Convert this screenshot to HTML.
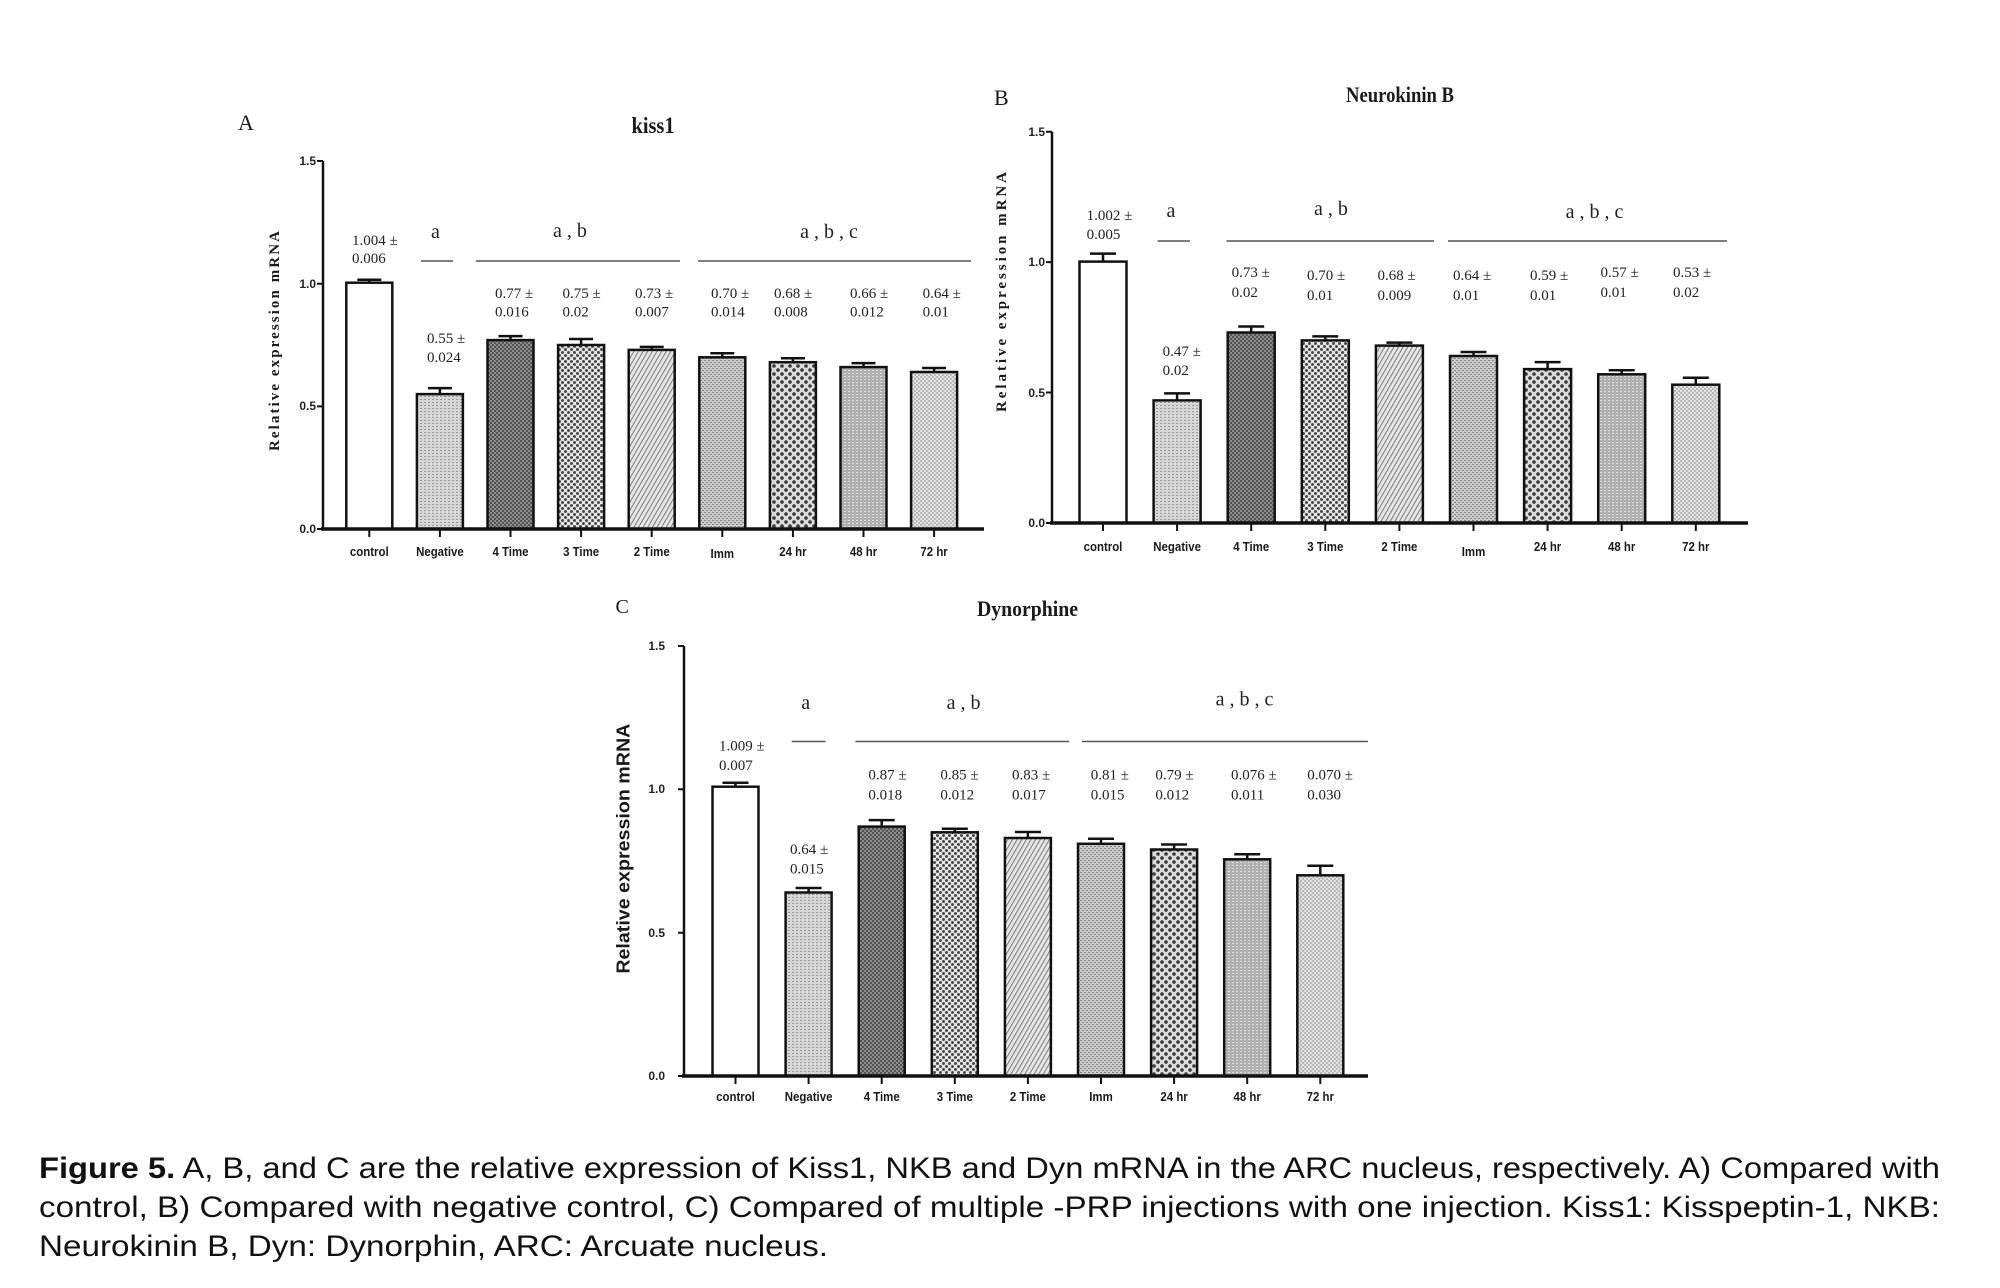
<!DOCTYPE html>
<html><head><meta charset="utf-8"><style>
html,body{margin:0;padding:0;background:#fff;}
svg{display:block;}
.sf{font-family:"Liberation Serif",serif;fill:#1a1a1a;}
.ss{font-family:"Liberation Sans",sans-serif;fill:#1a1a1a;}
.ann{font-family:"Liberation Serif",serif;font-size:15px;fill:#222;}
.let{font-family:"Liberation Serif",serif;font-size:20px;fill:#222;}
.tk{font-family:"Liberation Sans",sans-serif;font-size:12px;font-weight:bold;fill:#222;}
.xl{font-family:"Liberation Sans",sans-serif;font-size:13px;font-weight:bold;fill:#1a1a1a;}
.bar{stroke:#111;stroke-width:2.5;}
.ax{stroke:#111;fill:none;}
.eb{stroke:#111;stroke-width:2.5;fill:none;}
.gl{stroke:#555;stroke-width:1.6;}
</style></head><body>
<svg width="2000" height="1288" viewBox="0 0 2000 1288" xmlns="http://www.w3.org/2000/svg">
<defs>
<pattern id="pNeg" width="4" height="3" patternUnits="userSpaceOnUse"><rect width="4" height="3" fill="#d6d6d6"/><rect x="0" y="0" width="2" height="1" fill="#9a9a9a"/></pattern>
<pattern id="p4" width="4" height="4" patternUnits="userSpaceOnUse"><rect width="4" height="4" fill="#8a8a8a"/><rect x="0" y="0" width="2" height="2" fill="#555"/><rect x="2" y="2" width="2" height="2" fill="#555"/></pattern>
<pattern id="p3" width="6" height="6" patternUnits="userSpaceOnUse"><rect width="6" height="6" fill="#e6e6e6"/><circle cx="1.5" cy="1.5" r="1.45" fill="#444"/><circle cx="4.5" cy="4.5" r="1.45" fill="#444"/></pattern>
<pattern id="p2" width="4" height="4" patternUnits="userSpaceOnUse" patternTransform="rotate(30)"><rect width="4" height="4" fill="#e8e8e8"/><rect x="0" y="0" width="1.2" height="4" fill="#888"/></pattern>
<pattern id="pImm" width="4" height="4" patternUnits="userSpaceOnUse"><rect width="4" height="4" fill="#cbcbcb"/><rect x="0" y="0" width="2" height="1" fill="#858585"/><rect x="2" y="2" width="2" height="1" fill="#858585"/></pattern>
<pattern id="p24" width="8" height="8" patternUnits="userSpaceOnUse"><rect width="8" height="8" fill="#dcdcdc"/><circle cx="2" cy="2" r="1.8" fill="#3a3a3a"/><circle cx="6" cy="6" r="1.8" fill="#3a3a3a"/></pattern>
<pattern id="p48" width="4" height="3" patternUnits="userSpaceOnUse"><rect width="4" height="3" fill="#b0b0b0"/><rect x="0" y="1" width="2" height="1" fill="#dcdcdc"/></pattern>
<pattern id="p72" width="4" height="4" patternUnits="userSpaceOnUse"><rect width="4" height="4" fill="#e2e2e2"/><rect x="0" y="0" width="2" height="2" fill="#b8b8b8"/><rect x="2" y="2" width="2" height="2" fill="#b8b8b8"/></pattern>
</defs>
<rect width="2000" height="1288" fill="#fff"/>

<!-- ================= CHART A ================= -->
<text class="sf" x="238" y="130" font-size="22">A</text>
<text class="sf" x="653" y="133" font-size="23" font-weight="bold" text-anchor="middle" textLength="43" lengthAdjust="spacingAndGlyphs">kiss1</text>
<text class="sf" transform="translate(279,341) rotate(-90)" font-size="15" font-weight="bold" text-anchor="middle" textLength="220" lengthAdjust="spacing">Relative expression mRNA</text>

<!-- bars A -->
<rect class="bar" x="346.3" y="282.7" width="46" height="246.3" fill="#fff"/>
<rect class="bar" x="416.9" y="394.1" width="46" height="134.9" fill="url(#pNeg)"/>
<rect class="bar" x="487.5" y="340.1" width="46" height="188.9" fill="url(#p4)"/>
<rect class="bar" x="558.1" y="345.0" width="46" height="184.0" fill="url(#p3)"/>
<rect class="bar" x="628.7" y="349.9" width="46" height="179.1" fill="url(#p2)"/>
<rect class="bar" x="699.3" y="357.3" width="46" height="171.7" fill="url(#pImm)"/>
<rect class="bar" x="769.9" y="362.2" width="46" height="166.8" fill="url(#p24)"/>
<rect class="bar" x="840.5" y="367.1" width="46" height="161.9" fill="url(#p48)"/>
<rect class="bar" x="911.1" y="372.0" width="46" height="157.0" fill="url(#p72)"/>
<!-- error bars A -->
<path class="eb" d="M369.3 282.7V279.7M357.3 279.7H381.3
M439.9 394.1V388.1M427.9 388.1H451.9
M510.5 340.1V336.1M498.5 336.1H522.5
M581.1 345.0V339.0M569.1 339.0H593.1
M651.7 349.9V346.9M639.7 346.9H663.7
M722.3 357.3V353.3M710.3 353.3H734.3
M792.9 362.2V358.2M780.9 358.2H804.9
M863.5 367.1V363.1M851.5 363.1H875.5
M934.1 372.0V368.0M922.1 368.0H946.1"/>
<!-- axes A -->
<line class="ax" x1="323" y1="161" x2="323" y2="529" stroke-width="2.5"/>
<line class="ax" x1="321" y1="529" x2="984" y2="529" stroke-width="3.5"/>
<path class="ax" stroke-width="2" d="M317 161H323M317 283.7H323M317 406.4H323M317 529H323"/>
<text class="tk" x="316" y="165" text-anchor="end">1.5</text>
<text class="tk" x="316" y="288" text-anchor="end">1.0</text>
<text class="tk" x="316" y="410" text-anchor="end">0.5</text>
<text class="tk" x="316" y="533" text-anchor="end">0.0</text>
<path class="ax" stroke-width="2" d="M369.3 529V537M439.9 529V537M510.5 529V537M581.1 529V537M651.7 529V537M722.3 529V537M792.9 529V537M863.5 529V537M934.1 529V537"/>
<g class="xl" text-anchor="middle">
<text transform="translate(369.3,556) scale(0.88,1)">control</text>
<text transform="translate(439.9,556) scale(0.88,1)">Negative</text>
<text transform="translate(510.5,556) scale(0.88,1)">4 Time</text>
<text transform="translate(581.1,556) scale(0.88,1)">3 Time</text>
<text transform="translate(651.7,556) scale(0.88,1)">2 Time</text>
<text transform="translate(722.3,558) scale(0.88,1)">Imm</text>
<text transform="translate(792.9,556) scale(0.88,1)">24 hr</text>
<text transform="translate(863.5,556) scale(0.88,1)">48 hr</text>
<text transform="translate(934.1,556) scale(0.88,1)">72 hr</text>
</g>
<!-- annotations A -->
<text class="ann" x="352" y="245">1.004 ±</text><text class="ann" x="352" y="263">0.006</text>
<text class="let" x="435.5" y="238" text-anchor="middle">a</text>
<text class="let" x="570" y="237" text-anchor="middle">a , b</text>
<text class="let" x="829" y="238" text-anchor="middle">a , b , c</text>
<path class="gl" d="M421 261H453M476 261H680M698 261H971"/>
<text class="ann" x="427" y="343">0.55 ±</text><text class="ann" x="427" y="362">0.024</text>
<text class="ann" x="495" y="298">0.77 ±</text><text class="ann" x="495" y="316.5">0.016</text>
<text class="ann" x="562.5" y="298">0.75 ±</text><text class="ann" x="562.5" y="316.5">0.02</text>
<text class="ann" x="635" y="298">0.73 ±</text><text class="ann" x="635" y="316.5">0.007</text>
<text class="ann" x="711" y="298">0.70 ±</text><text class="ann" x="711" y="316.5">0.014</text>
<text class="ann" x="774" y="298">0.68 ±</text><text class="ann" x="774" y="316.5">0.008</text>
<text class="ann" x="850" y="298">0.66 ±</text><text class="ann" x="850" y="316.5">0.012</text>
<text class="ann" x="922.6" y="298">0.64 ±</text><text class="ann" x="922.6" y="316.5">0.01</text>

<!-- ================= CHART B ================= -->
<text class="sf" x="994" y="105" font-size="22">B</text>
<text class="sf" x="1400" y="102" font-size="22" font-weight="bold" text-anchor="middle" textLength="108" lengthAdjust="spacingAndGlyphs">Neurokinin B</text>
<text class="sf" transform="translate(1006,292) rotate(-90)" font-size="15" font-weight="bold" text-anchor="middle" textLength="240" lengthAdjust="spacing">Relative expression mRNA</text>

<rect class="bar" x="1079.5" y="261.6" width="47" height="261.4" fill="#fff"/>
<rect class="bar" x="1153.6" y="400.4" width="47" height="122.6" fill="url(#pNeg)"/>
<rect class="bar" x="1227.7" y="332.5" width="47" height="190.5" fill="url(#p4)"/>
<rect class="bar" x="1301.8" y="340.4" width="47" height="182.6" fill="url(#p3)"/>
<rect class="bar" x="1375.9" y="345.6" width="47" height="177.4" fill="url(#p2)"/>
<rect class="bar" x="1450" y="356.0" width="47" height="167.0" fill="url(#pImm)"/>
<rect class="bar" x="1524.1" y="369.1" width="47" height="153.9" fill="url(#p24)"/>
<rect class="bar" x="1598.2" y="374.3" width="47" height="148.7" fill="url(#p48)"/>
<rect class="bar" x="1672.3" y="384.7" width="47" height="138.3" fill="url(#p72)"/>
<path class="eb" d="M1103 261.6V253.6M1090 253.6H1116
M1177.1 400.4V393.4M1164.1 393.4H1190.1
M1251.2 332.5V326.5M1238.2 326.5H1264.2
M1325.3 340.4V336.4M1312.3 336.4H1338.3
M1399.4 345.6V342.6M1386.4 342.6H1412.4
M1473.5 356.0V352.0M1460.5 352.0H1486.5
M1547.6 369.1V362.1M1534.6 362.1H1560.6
M1621.7 374.3V370.3M1608.7 370.3H1634.7
M1695.8 384.7V377.7M1682.8 377.7H1708.8"/>
<line class="ax" x1="1052" y1="131.7" x2="1052" y2="523" stroke-width="2.5"/>
<line class="ax" x1="1050" y1="523" x2="1748" y2="523" stroke-width="3.5"/>
<path class="ax" stroke-width="2" d="M1046 131.7H1052M1046 262.1H1052M1046 392.5H1052M1046 523H1052"/>
<text class="tk" x="1045" y="136" text-anchor="end">1.5</text>
<text class="tk" x="1045" y="266" text-anchor="end">1.0</text>
<text class="tk" x="1045" y="397" text-anchor="end">0.5</text>
<text class="tk" x="1045" y="527" text-anchor="end">0.0</text>
<path class="ax" stroke-width="2" d="M1103 523V531M1177.1 523V531M1251.2 523V531M1325.3 523V531M1399.4 523V531M1473.5 523V531M1547.6 523V531M1621.7 523V531M1695.8 523V531"/>
<g class="xl" text-anchor="middle">
<text transform="translate(1103,551) scale(0.88,1)">control</text>
<text transform="translate(1177.1,551) scale(0.88,1)">Negative</text>
<text transform="translate(1251.2,551) scale(0.88,1)">4 Time</text>
<text transform="translate(1325.3,551) scale(0.88,1)">3 Time</text>
<text transform="translate(1399.4,551) scale(0.88,1)">2 Time</text>
<text transform="translate(1473.5,556) scale(0.88,1)">Imm</text>
<text transform="translate(1547.6,551) scale(0.88,1)">24 hr</text>
<text transform="translate(1621.7,551) scale(0.88,1)">48 hr</text>
<text transform="translate(1695.8,551) scale(0.88,1)">72 hr</text>
</g>
<text class="ann" x="1086.6" y="220">1.002 ±</text><text class="ann" x="1086.6" y="239">0.005</text>
<text class="let" x="1171" y="217" text-anchor="middle">a</text>
<text class="let" x="1331" y="215" text-anchor="middle">a , b</text>
<text class="let" x="1594.5" y="218" text-anchor="middle">a , b , c</text>
<path class="gl" d="M1157.6 241H1190M1226.5 241H1434M1448 241H1727"/>
<text class="ann" x="1162.6" y="356">0.47 ±</text><text class="ann" x="1162.6" y="375">0.02</text>
<text class="ann" x="1231.6" y="277">0.73 ±</text><text class="ann" x="1231.6" y="297">0.02</text>
<text class="ann" x="1307" y="280">0.70 ±</text><text class="ann" x="1307" y="300">0.01</text>
<text class="ann" x="1377.5" y="280">0.68 ±</text><text class="ann" x="1377.5" y="300">0.009</text>
<text class="ann" x="1453" y="280">0.64 ±</text><text class="ann" x="1453" y="300">0.01</text>
<text class="ann" x="1530" y="280">0.59 ±</text><text class="ann" x="1530" y="300">0.01</text>
<text class="ann" x="1600.5" y="277">0.57 ±</text><text class="ann" x="1600.5" y="297">0.01</text>
<text class="ann" x="1673" y="277">0.53 ±</text><text class="ann" x="1673" y="297">0.02</text>

<!-- ================= CHART C ================= -->
<text class="sf" x="615.5" y="613" font-size="20">C</text>
<text class="sf" x="1027.5" y="616" font-size="22" font-weight="bold" text-anchor="middle" textLength="101" lengthAdjust="spacingAndGlyphs">Dynorphine</text>
<text class="ss" transform="translate(629.5,848.7) rotate(-90)" font-size="18" font-weight="bold" text-anchor="middle" textLength="250" lengthAdjust="spacingAndGlyphs">Relative expression mRNA</text>

<rect class="bar" x="712.5" y="786.7" width="46" height="289.3" fill="#fff"/>
<rect class="bar" x="785.6" y="892.5" width="46" height="183.5" fill="url(#pNeg)"/>
<rect class="bar" x="858.7" y="826.6" width="46" height="249.4" fill="url(#p4)"/>
<rect class="bar" x="931.8" y="832.3" width="46" height="243.7" fill="url(#p3)"/>
<rect class="bar" x="1004.9" y="838.0" width="46" height="238.0" fill="url(#p2)"/>
<rect class="bar" x="1078" y="843.8" width="46" height="232.2" fill="url(#pImm)"/>
<rect class="bar" x="1151.1" y="849.5" width="46" height="226.5" fill="url(#p24)"/>
<rect class="bar" x="1224.2" y="859.3" width="46" height="216.7" fill="url(#p48)"/>
<rect class="bar" x="1297.3" y="875.3" width="46" height="200.7" fill="url(#p72)"/>
<path class="eb" d="M735.5 786.7V782.7M722.5 782.7H748.5
M808.6 892.5V888.0M795.6 888.0H821.6
M881.7 826.6V820.1M868.7 820.1H894.7
M954.8 832.3V828.8M941.8 828.8H967.8
M1027.9 838.0V832.0M1014.9 832.0H1040.9
M1101 843.8V838.8M1088 838.8H1114
M1174.1 849.5V844.5M1161.1 844.5H1187.1
M1247.2 859.3V854.3M1234.2 854.3H1260.2
M1320.3 875.3V865.8M1307.3 865.8H1333.3"/>
<line class="ax" x1="684" y1="646" x2="684" y2="1076" stroke-width="2.5"/>
<line class="ax" x1="682" y1="1076" x2="1368" y2="1076" stroke-width="3.5"/>
<path class="ax" stroke-width="2" d="M678 646H684M678 789.3H684M678 932.7H684M678 1076H684"/>
<text class="tk" x="665" y="650" text-anchor="end">1.5</text>
<text class="tk" x="665" y="793" text-anchor="end">1.0</text>
<text class="tk" x="665" y="937" text-anchor="end">0.5</text>
<text class="tk" x="665" y="1080" text-anchor="end">0.0</text>
<path class="ax" stroke-width="2" d="M735.5 1076V1084M808.6 1076V1084M881.7 1076V1084M954.8 1076V1084M1027.9 1076V1084M1101 1076V1084M1174.1 1076V1084M1247.2 1076V1084M1320.3 1076V1084"/>
<g class="xl" text-anchor="middle">
<text transform="translate(735.5,1101) scale(0.88,1)">control</text>
<text transform="translate(808.6,1101) scale(0.88,1)">Negative</text>
<text transform="translate(881.7,1101) scale(0.88,1)">4 Time</text>
<text transform="translate(954.8,1101) scale(0.88,1)">3 Time</text>
<text transform="translate(1027.9,1101) scale(0.88,1)">2 Time</text>
<text transform="translate(1101,1101) scale(0.88,1)">Imm</text>
<text transform="translate(1174.1,1101) scale(0.88,1)">24 hr</text>
<text transform="translate(1247.2,1101) scale(0.88,1)">48 hr</text>
<text transform="translate(1320.3,1101) scale(0.88,1)">72 hr</text>
</g>
<text class="ann" x="719" y="750.6">1.009 ±</text><text class="ann" x="719" y="770">0.007</text>
<text class="let" x="805.7" y="709" text-anchor="middle">a</text>
<text class="let" x="963.6" y="709" text-anchor="middle">a , b</text>
<text class="let" x="1244.5" y="705.7" text-anchor="middle">a , b , c</text>
<path class="gl" d="M791.7 741.5H825.4M855.4 741.5H1069M1081.9 741.5H1367.9"/>
<text class="ann" x="790" y="853.8">0.64 ±</text><text class="ann" x="790" y="873.4">0.015</text>
<text class="ann" x="868.4" y="779.4">0.87 ±</text><text class="ann" x="868.4" y="799.7">0.018</text>
<text class="ann" x="940.4" y="779.4">0.85 ±</text><text class="ann" x="940.4" y="799.7">0.012</text>
<text class="ann" x="1012" y="779.4">0.83 ±</text><text class="ann" x="1012" y="799.7">0.017</text>
<text class="ann" x="1090.7" y="779.4">0.81 ±</text><text class="ann" x="1090.7" y="799.7">0.015</text>
<text class="ann" x="1155.4" y="779.4">0.79 ±</text><text class="ann" x="1155.4" y="799.7">0.012</text>
<text class="ann" x="1231" y="779.4">0.076 ±</text><text class="ann" x="1231" y="799.7">0.011</text>
<text class="ann" x="1307.3" y="779.4">0.070 ±</text><text class="ann" x="1307.3" y="799.7">0.030</text>

<!-- ================= CAPTION ================= -->
<g font-family="Liberation Sans, sans-serif" font-size="30" fill="#111">
<text x="39" y="1178" textLength="1901" lengthAdjust="spacingAndGlyphs"><tspan font-weight="bold">Figure 5.</tspan> A, B, and C are the relative expression of Kiss1, NKB and Dyn mRNA in the ARC nucleus, respectively. A) Compared with</text>
<text x="39" y="1217" textLength="1901" lengthAdjust="spacingAndGlyphs">control, B) Compared with negative control, C) Compared of multiple -PRP injections with one injection. Kiss1: Kisspeptin-1, NKB:</text>
<text x="39" y="1256" textLength="789" lengthAdjust="spacingAndGlyphs">Neurokinin B, Dyn: Dynorphin, ARC: Arcuate nucleus.</text>
</g>
</svg>
</body></html>
